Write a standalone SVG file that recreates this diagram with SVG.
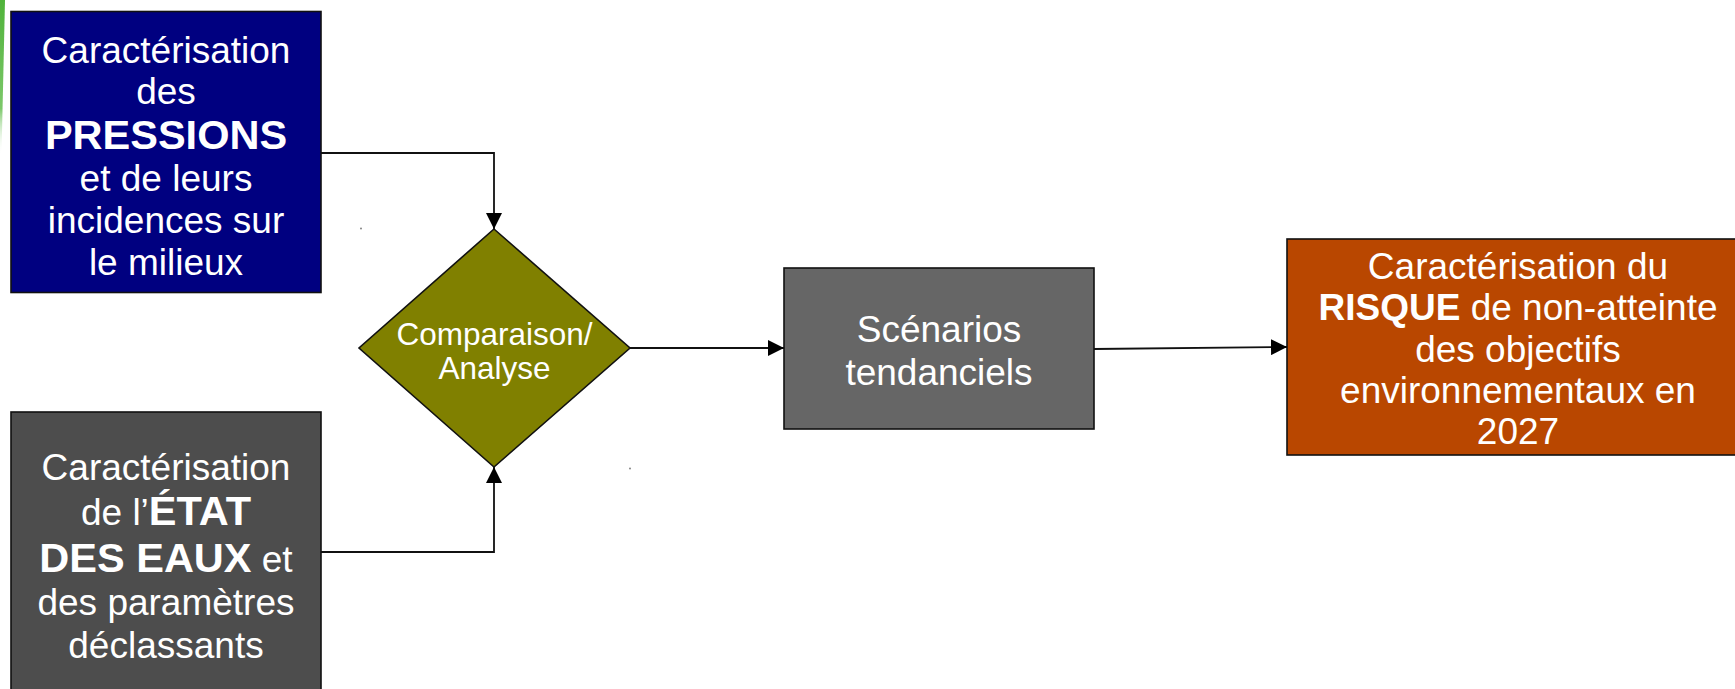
<svg xmlns="http://www.w3.org/2000/svg" width="1735" height="689" viewBox="0 0 1735 689">
  <style>
    .node { stroke: #111; stroke-width: 1.6; }
    .t { font-family: "Liberation Sans", Arial, sans-serif; font-size: 37px; fill: #ffffff; text-anchor: middle; }
    .tb { font-weight: bold; }
    .big { font-size: 41.5px; }
    .edge { fill: none; stroke: #111; stroke-width: 1.8; }
  </style>
  <defs>
    <marker id="arrow" viewBox="0 0 10 10" refX="10" refY="5" markerWidth="16" markerHeight="16" markerUnits="userSpaceOnUse" orient="auto">
      <path d="M0,0 L10,5 L0,10 z" fill="#000"/>
    </marker>
    <linearGradient id="green" x1="0" y1="0" x2="0" y2="1">
      <stop offset="0" stop-color="#4fb33a"/>
      <stop offset="0.7" stop-color="#7cc86a"/>
      <stop offset="1" stop-color="#ffffff" stop-opacity="0"/>
    </linearGradient>
  </defs>
  <rect width="1735" height="689" fill="#ffffff"/>
  <polygon points="0,0 5,0 1.5,155 0,155" fill="url(#green)"/>
  <circle cx="361" cy="228.5" r="0.9" fill="#777"/>
  <circle cx="630" cy="468.5" r="0.9" fill="#777"/>

  <g id="connectors">
    <polyline class="edge" points="321,153 494,153 494,229" marker-end="url(#arrow)"/>
    <polyline class="edge" points="321,552 494,552 494,467" marker-end="url(#arrow)"/>
    <line class="edge" x1="630" y1="348" x2="784" y2="348" marker-end="url(#arrow)"/>
    <line class="edge" x1="1094" y1="349" x2="1287" y2="347" marker-end="url(#arrow)"/>
  </g>

  <g id="pressions">
    <rect class="node" x="11" y="11.5" width="310" height="281" fill="#000080"/>
    <text class="t" x="166" y="63">Caractérisation</text>
    <text class="t" x="166" y="104">des</text>
    <text class="t tb big" x="166" y="149">PRESSIONS</text>
    <text class="t" x="166" y="191">et de leurs</text>
    <text class="t" x="166" y="233">incidences sur</text>
    <text class="t" x="166" y="275">le milieux</text>
  </g>

  <g id="etat">
    <rect class="node" x="11" y="412" width="310" height="290" fill="#4d4d4d"/>
    <text class="t" x="166" y="480">Caractérisation</text>
    <text class="t" x="166" y="525">de l’<tspan class="tb big">ÉTAT</tspan></text>
    <text class="t" x="166" y="572"><tspan class="tb big">DES EAUX</tspan> et</text>
    <text class="t" x="166" y="615">des paramètres</text>
    <text class="t" x="166" y="658">déclassants</text>
  </g>

  <g id="comparaison">
    <polygon class="node" points="494,229 630,348 494,467 359,348" fill="#808000"/>
    <text class="t" style="font-size:31.5px" x="494.5" y="345">Comparaison/</text>
    <text class="t" style="font-size:31.5px" x="494.5" y="379">Analyse</text>
  </g>

  <g id="scenarios">
    <rect class="node" x="784" y="268" width="310" height="161" fill="#666666"/>
    <text class="t" x="939" y="342">Scénarios</text>
    <text class="t" x="939" y="385">tendanciels</text>
  </g>

  <g id="risque">
    <rect class="node" x="1287" y="239" width="462" height="216" fill="#b94700"/>
    <text class="t" x="1518" y="279">Caractérisation du</text>
    <text class="t" x="1518" y="320"><tspan class="tb">RISQUE</tspan> de non-atteinte</text>
    <text class="t" x="1518" y="362">des objectifs</text>
    <text class="t" x="1518" y="403">environnementaux en</text>
    <text class="t" x="1518" y="444">2027</text>
  </g>
</svg>
